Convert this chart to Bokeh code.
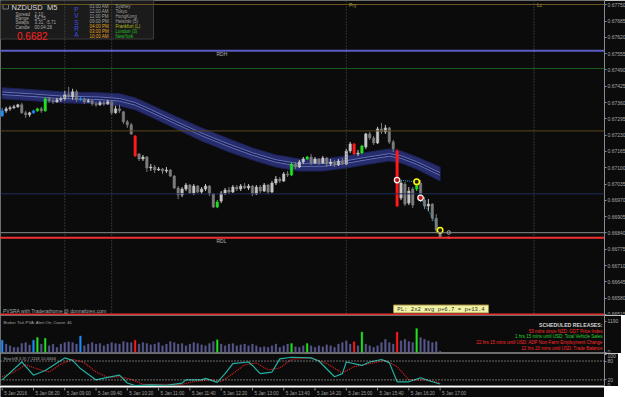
from bokeh.plotting import figure
from bokeh.models import Range1d, FixedTicker, Span, Label, ColumnDataSource, NumeralTickFormatter
from bokeh.layouts import column
from bokeh.embed import file_html
from bokeh.resources import INLINE
from bokeh.core.properties import value

# ---------------- data (NZDUSD M5, 5 Jan 2016, bars from 07:40) ----------------
open_ = [0.67307,0.67327,0.67335,0.67339,0.67343,0.67351,0.67319,0.67311,0.67319,0.67327,
         0.67335,0.67327,0.67375,0.67367,0.67363,0.67371,0.67375,0.67391,0.67383,0.67403,
         0.67371,0.67375,0.67363,0.67367,0.67355,0.67351,0.67359,0.67355,0.67363,0.67319,
         0.67335,0.67323,0.67283,0.67271,0.67227,0.67155,0.67135,0.67143,0.67099,0.67103,
         0.67091,0.67095,0.67087,0.67091,0.67067,0.67019,0.66991,0.67015,0.67031,0.66999,
         0.67027,0.67003,0.67015,0.67027,0.66995,0.66943,0.66967,0.66999,0.67011,0.67003,
         0.67023,0.67015,0.67027,0.67019,0.67027,0.66995,0.67023,0.67007,0.67031,0.67003,
         0.67039,0.67055,0.67047,0.67075,0.67071,0.67115,0.67103,0.67123,0.67135,0.67143,
         0.67119,0.67135,0.67119,0.67139,0.67115,0.67123,0.67111,0.67127,0.67115,0.67167,
         0.67195,0.67155,0.67159,0.67183,0.67235,0.67219,0.67199,0.67255,0.67243,0.67259,
         0.67203,0.67167,0.66979,0.67035,0.66959,0.67015,0.67015,0.67039,0.66971,0.66947,
         0.66955,0.66899,0.66851]
close = [0.67327,0.67335,0.67339,0.67343,0.67351,0.67319,0.67311,0.67319,0.67327,0.67335,
         0.67327,0.67375,0.67367,0.67363,0.67371,0.67375,0.67391,0.67383,0.67403,0.67371,
         0.67375,0.67363,0.67367,0.67355,0.67351,0.67359,0.67355,0.67363,0.67319,0.67335,
         0.67327,0.67283,0.67271,0.67235,0.67147,0.67135,0.67143,0.67099,0.67103,0.67091,
         0.67095,0.67087,0.67091,0.67067,0.67019,0.66991,0.67015,0.67031,0.66999,0.67027,
         0.67003,0.67015,0.67027,0.66995,0.66943,0.66963,0.66999,0.67011,0.67003,0.67023,
         0.67015,0.67027,0.67019,0.67027,0.66995,0.67023,0.67007,0.67031,0.67003,0.67039,
         0.67055,0.67047,0.67075,0.67071,0.67115,0.67103,0.67123,0.67135,0.67143,0.67119,
         0.67135,0.67119,0.67139,0.67115,0.67123,0.67111,0.67127,0.67115,0.67167,0.67195,
         0.67155,0.67159,0.67187,0.67235,0.67219,0.67199,0.67255,0.67243,0.67259,0.67203,
         0.67175,0.66947,0.67039,0.66955,0.67007,0.66951,0.67039,0.66971,0.66947,0.66955,
         0.66899,0.66851,0.66823]
high = [0.67339,0.67343,0.67347,0.67351,0.67355,0.67359,0.67327,0.67323,0.67331,0.67339,
        0.67343,0.67379,0.67383,0.67375,0.67379,0.67383,0.67407,0.67423,0.67415,0.67411,
        0.67383,0.67379,0.67375,0.67371,0.67363,0.67367,0.67367,0.67371,0.67367,0.67347,
        0.67351,0.67327,0.67291,0.67279,0.67231,0.67159,0.67151,0.67147,0.67115,0.67111,
        0.67103,0.67099,0.67103,0.67095,0.67071,0.67027,0.67023,0.67039,0.67035,0.67035,
        0.67031,0.67023,0.67035,0.67031,0.66999,0.66971,0.67007,0.67019,0.67023,0.67031,
        0.67031,0.67035,0.67039,0.67035,0.67031,0.67031,0.67031,0.67039,0.67035,0.67047,
        0.67067,0.67063,0.67083,0.67087,0.67119,0.67123,0.67131,0.67143,0.67147,0.67155,
        0.67143,0.67139,0.67147,0.67143,0.67135,0.67131,0.67135,0.67139,0.67175,0.67203,
        0.67199,0.67171,0.67191,0.67239,0.67243,0.67227,0.67263,0.67279,0.67271,0.67263,
        0.67211,0.67175,0.67047,0.67043,0.67023,0.67023,0.67047,0.67051,0.66983,0.66975,
        0.66959,0.66915,0.66859]
low = [0.67303,0.67319,0.67327,0.67335,0.67339,0.67315,0.67299,0.67303,0.67315,0.67323,
       0.67319,0.67323,0.67359,0.67355,0.67359,0.67363,0.67367,0.67375,0.67371,0.67363,
       0.67367,0.67355,0.67359,0.67347,0.67343,0.67347,0.67347,0.67351,0.67311,0.67315,
       0.67319,0.67275,0.67259,0.67231,0.67143,0.67127,0.67127,0.67083,0.67087,0.67079,
       0.67087,0.67075,0.67079,0.67063,0.67015,0.66975,0.66983,0.67007,0.66995,0.66991,
       0.66999,0.66995,0.67007,0.66987,0.66939,0.66939,0.66959,0.66991,0.66995,0.66999,
       0.67007,0.67007,0.67015,0.67011,0.66987,0.66991,0.66999,0.67003,0.66995,0.66999,
       0.67031,0.67039,0.67043,0.67063,0.67067,0.67095,0.67099,0.67115,0.67131,0.67111,
       0.67115,0.67111,0.67115,0.67103,0.67107,0.67103,0.67107,0.67111,0.67111,0.67159,
       0.67151,0.67147,0.67155,0.67175,0.67211,0.67191,0.67195,0.67235,0.67235,0.67195,
       0.67163,0.66943,0.66971,0.66947,0.66951,0.66939,0.67007,0.66963,0.66935,0.66927,
       0.66887,0.66839,0.66823]
volume = [463,313,250,188,188,338,375,275,463,563,
          313,538,250,313,188,313,375,400,375,313,
          625,250,313,375,313,338,250,313,375,338,
          313,413,375,375,463,313,375,338,288,313,
          375,250,313,413,375,313,338,250,313,375,
          338,288,250,338,413,475,313,250,313,338,
          250,288,313,250,313,250,188,213,188,250,
          313,188,250,313,338,213,188,250,338,250,
          188,250,213,288,250,188,313,375,438,313,
          400,250,775,313,250,188,250,375,500,375,
          313,775,438,500,413,375,913,563,500,438,
          375,400,38]
# PVSRA climax / above-average bars (bar index -> class)
pvsra_bars = {0: "blue", 8: "blue", 9: "green", 11: "green", 20: "blue", 34: "red",
              55: "green", 74: "green", 78: "green", 90: "red", 92: "green",
              101: "red", 106: "green"}

# moving-average band (bar index, upper, lower)
band_idx = [0, 8, 15, 25, 30, 34, 38, 44, 51, 58, 64, 70, 76, 82, 88, 94, 99, 102, 106, 112]
band_upper = [0.67419,0.67411,0.67403,0.67399,0.67395,0.67379,0.67351,0.67307,0.67259,0.67215,
              0.67179,0.67151,0.67135,0.67135,0.67147,0.67163,0.67175,0.67167,0.67143,0.67103]
band_lower = [0.67375,0.67367,0.67359,0.67355,0.67347,0.67331,0.67303,0.67259,0.67207,0.67163,
              0.67131,0.67103,0.67087,0.67087,0.67099,0.67115,0.67127,0.67119,0.67095,0.67047]

# stochastic (8,3,3)
stoch_idx = [0,5,8,11,16,18,20,24,27,30,32,34,38,42,46,47,51,52,55,57,59,63,64,66,69,71,74,
             79,81,85,87,88,92,94,97,99,101,104,107,110,112]
stoch_main = [20,77,35,50,90,82,56,20,28,35,10,2,4,3,10,20,20,25,12,40,72,77,66,40,45,87,92,
              90,80,30,40,77,66,77,85,75,14,14,27,14,7]
sig_idx = [0,3,6,9,12,15,18,21,24,27,30,33,36,46,49,53,56,59,62,65,68,71,74,79,83,87,90,94,
           98,101,104,108,112]
stoch_signal = [30,45,68,55,45,70,86,75,45,28,30,22,6,6,15,20,15,40,68,74,52,58,86,90,72,42,
                62,72,82,62,20,20,11]

# trade markers
entry_idx = [101, 107]
entry_price = [0.67051, 0.66980]
exit_idx = [106, 112]
exit_price = [0.67044, 0.66851]

# levels
level_top = 0.67751
level_rdh = 0.67567
level_green = 0.67496
level_brown = 0.67247
level_blue = 0.66996
level_gray = 0.66841
level_rdl = 0.66821
level_bottom = 0.66515
session_bars = [16, 28, 88, 136]

price_ticks = [0.66515, 0.66580, 0.66645, 0.66710, 0.66775, 0.66840, 0.66905, 0.66970,
               0.67035, 0.67100, 0.67165, 0.67230, 0.67295, 0.67360, 0.67425, 0.67490,
               0.67555, 0.67620, 0.67685, 0.67750]
time_tick_bars = [0, 8, 16, 24, 32, 40, 48, 56, 64, 72, 80, 88, 96, 104, 112]
time_labels = ["5 Jan 2016", "5 Jan 08:20", "5 Jan 09:00", "5 Jan 09:40", "5 Jan 10:20",
               "5 Jan 11:00", "5 Jan 11:40", "5 Jan 12:20", "5 Jan 13:00", "5 Jan 13:40",
               "5 Jan 14:20", "5 Jan 15:00", "5 Jan 15:40", "5 Jan 16:20", "5 Jan 17:00"]

# ---------------- layout helpers (pixel -> data) ----------------
X0, DX = 1.7, 3.91
def bx(px): return (px - X0) / DX
P0, DP = 0.67767, 0.00003988
def py(px): return P0 - DP * px
def vy(px): return (351.7 - px) * 1190 / 31.0
def sy(px): return 104 - (px - 353) * 105 / 33.0

BG = "#0b0b0b"
FONT = "Liberation Sans"
FW = 604
xr = Range1d(bx(0), bx(FW))

def make_fig(h, yrange, axis=True, outline="#6e6e6e"):
    p = figure(frame_width=FW, frame_height=h, x_range=xr, y_range=yrange,
               output_backend="svg", toolbar_location=None, min_border=0,
               x_axis_location=None, y_axis_location="right" if axis else None,
               background_fill_color=BG, border_fill_color=BG,
               outline_line_color=outline)
    p.grid.visible = False
    if axis:
        ax = p.yaxis[0]
        ax.axis_line_color = "#8a8a8a"
        ax.major_tick_line_color = "#8a8a8a"
        ax.major_tick_out = 2
        ax.major_tick_in = 0
        ax.minor_tick_line_color = None
        ax.major_label_text_color = "#a8a8a8"
        ax.major_label_text_font_size = "5px"
        ax.major_label_text_font = FONT
        ax.major_label_standoff = 1
    return p

def lab(p, xpx, ypx, text, size, color, conv, align="left", style="normal", font=FONT):
    p.add_layout(Label(x=bx(xpx), y=conv(ypx), text=text, text_font_size=f"{size}px",
                       text_color=color, text_font=font, text_align=align,
                       text_baseline="middle", text_font_style=style))

# ---------------- main price panel ----------------
p1 = make_fig(315, Range1d(py(315), py(0)))
p1.yaxis.ticker = FixedTicker(ticks=price_ticks)
p1.yaxis.formatter = NumeralTickFormatter(format="0.00000")

for b in session_bars:
    p1.add_layout(Span(location=b, dimension="height", line_color="#5a5a5a",
                       line_dash="1 2", line_width=1))
for loc, col, w in [(level_top, "#6b5520", 1), (level_rdh, "#5c5cc4", 2),
                    (level_green, "#1d5a1d", 1), (level_brown, "#5a4520", 1),
                    (level_blue, "#1e2e5c", 1), (level_gray, "#8c8c8c", 1),
                    (level_rdl, "#f03030", 2), (level_bottom, "#e83030", 2)]:
    p1.add_layout(Span(location=loc, dimension="width", line_color=col, line_width=w))

# band
p1.patch(band_idx + band_idx[::-1], band_upper + band_lower[::-1],
         fill_color="#272d6c", line_color="#1d2258", line_width=1)
band_mid = [(u + l) / 2 for u, l in zip(band_upper, band_lower)]
p1.line(band_idx, [m + 0.00005 for m in band_mid], line_color="#7382cc", line_width=0.8)
p1.line(band_idx, [m - 0.00005 for m in band_mid], line_color="#7382cc", line_width=0.8)
p1.line(band_idx, band_mid, line_color="#151a45", line_width=0.8)

climax_col = {"blue": "#1e90ff", "green": "#22e022", "red": "#ff1a1a"}
idx = list(range(len(close)))
ccol = []
for i in idx:
    if i in pvsra_bars:
        ccol.append(climax_col[pvsra_bars[i]])
    elif close[i] >= open_[i]:
        ccol.append("#c6c6c6")
    else:
        ccol.append("#7c7c7c")
src = ColumnDataSource(dict(x=idx, o=open_, c=close, h=high, l=low, col=ccol,
                            top=[max(a, b) for a, b in zip(open_, close)],
                            bot=[min(a, b) for a, b in zip(open_, close)]))
p1.segment(x0="x", y0="l", x1="x", y1="h", line_color="col", line_width=1, source=src)
p1.vbar(x="x", top="top", bottom="bot", width=0.62, fill_color="col", line_color="col",
        line_width=0.5, source=src)

# trades
for k in range(2):
    p1.line([entry_idx[k], exit_idx[k]], [entry_price[k], exit_price[k]],
            line_color="#2ea8c8", line_dash="1 1", line_width=1)
p1.scatter(entry_idx, entry_price, size=5.5, marker="circle", fill_color="#c01818",
           line_color="#f4f4f4", line_width=1.3)
p1.scatter(exit_idx, exit_price, size=5.5, marker="circle", fill_color="#1a1a1a",
           line_color="#ffff00", line_width=1.5)
p1.scatter([bx(448.3)], [py(232)], size=3.5, marker="circle", fill_color=None,
           line_color="#b0b0b0", line_width=1)
p1.scatter([bx(448.3)], [level_rdl], size=2.5, marker="square", fill_color="#ff2020",
           line_color=None)

# info box
p1.quad(left=[bx(0)], right=[bx(153)], top=[py(0)], bottom=[py(38.5)],
        fill_color="#1b1b1b", line_color="#3a3a3a", line_width=1)
p1.quad(left=[bx(2.5)], right=[bx(8)], top=[py(4)], bottom=[py(8.5)],
        fill_color=None, line_color="#8a8a8a", line_width=0.8)
lab(p1, 11, 6.5, "NZDUSD", 7.5, "#dcdcdc", py)
lab(p1, 46.5, 6.5, "M5", 7.5, "#dcdcdc", py)
for j, (k, v) in enumerate([("Spread", "2.10"), ("Range", "54.75"),
                            ("Swaps", "3.31, -5.71"), ("Candle", "00:04:28")]):
    lab(p1, 15, 13.5 + 4.4 * j, k, 4.5, "#a8a8a8", py)
    lab(p1, 34, 13.5 + 4.4 * j, v, 4.5, "#a8a8a8", py)
lab(p1, 16.5, 35.3, "0.6682", 10, "#ff2020", py)
for j, ch in enumerate("PVSRA"):
    lab(p1, 76, 9 + 6.25 * j, ch, 6.5, "#3c4ee0", py, align="center")
sess_times = ["01:00 AM", "12:00 AM", "11:00 PM", "09:00 PM", "04:00 PM", "03:00 PM", "10:00 AM"]
sess_names = ["Sydney", "Tokyo", "HongKong", "Helsinki (5)", "Frankfurt (L)", "London (3)", "NewYork"]
tcols = ["#a0a0a0"] * 4 + ["#e6a020"] * 3
ncols = ["#a0a0a0"] * 4 + ["#b8c020", "#22c022", "#22c022"]
for j in range(7):
    lab(p1, 89, 5.7 + 5.12 * j, sess_times[j], 4.5, tcols[j], py)
    lab(p1, 115, 5.7 + 5.12 * j, sess_names[j], 4.5, ncols[j], py)

lab(p1, 216, 53.5, "RDH", 5, "#b4b4b4", py)
lab(p1, 216, 240.5, "RDL", 5, "#b4b4b4", py)
lab(p1, 348.5, 4.8, "Pry", 5, "#a89a30", py)
lab(p1, 536.5, 4.8, "Lc", 5, "#a89a30", py)
lab(p1, 2.5, 310.5, "PVSRA with Traderathome @ donnaforex.com", 5, "#a8a8a8", py)

p1.quad(left=[bx(393)], right=[bx(488)], top=[py(304.5)], bottom=[py(312.5)],
        fill_color="#f2f2a4", line_color="#a08a40", line_width=1)
lab(p1, 440.5, 308.5, "PL: 2x2 avg p+6.7 = p+13.4", 5.6, "#303030", py, align="center",
    font="Liberation Mono")

p1.add_layout(Label(x=bx(605), y=level_rdl, text="0.66824", text_font_size="5px",
                    text_color="#000000", text_font=FONT, text_baseline="middle",
                    background_fill_color="#a0a0a0"))

# ---------------- volume panel ----------------
p2 = make_fig(38, Range1d(vy(353), vy(315)))
p2.yaxis.ticker = FixedTicker(ticks=[0, 1190])
vcol = ["#58588e" if i not in pvsra_bars else climax_col[pvsra_bars[i]] for i in idx]
p2.vbar(x=idx, top=volume, bottom=0, width=0.45, fill_color=vcol, line_color=vcol,
        line_width=0.3)
lab(p2, 3, 322, "Broker Tick PVA:  Alert On;  Count: 46", 4.2, "#a8a8a8", vy)
lab(p2, 602, 324.5, "SCHEDULED RELEASES:", 5.2, "#d6d6d6", vy, align="right", style="bold")
rel_text = ["53 mins since NZD: GDT Price Index",
            "1 hrs 15 mins until USD: Total Vehicle Sales",
            "22 hrs 15 mins until USD: ADP Non-Farm Employment Change",
            "22 hrs 20 mins until USD: Trade Balance"]
rel_col = ["#ff2a2a", "#2ed02e", "#ff2a2a", "#ff2a2a"]
for j in range(4):
    lab(p2, 602, 330.7 + 5.6 * j, rel_text[j], 4.5, rel_col[j], vy, align="right")

# ---------------- stochastic panel ----------------
p3 = make_fig(33, Range1d(sy(386), sy(353)))
p3.yaxis.ticker = FixedTicker(ticks=[0, 20, 80, 100])
for lv in [20, 80]:
    p3.add_layout(Span(location=lv, dimension="width", line_color="#cfcfcf",
                       line_dash="1 2", line_width=1))
p3.line(sig_idx, stoch_signal, line_color="#e02020", line_dash="1 1", line_width=1.2)
p3.line(stoch_idx, stoch_main, line_color="#22b0a2", line_width=1.2)
lab(p3, 3, 357.5, "Stoch(8,3,3) 7.1118 10.6666", 4.2, "#a8a8a8", sy)

# ---------------- time axis strip ----------------
p4 = make_fig(11, Range1d(397, 386), axis=False, outline=None)
p4.segment(x0=time_tick_bars, y0=[386] * 15, x1=time_tick_bars, y1=[389] * 15,
           line_color="#8a8a8a", line_width=1)
p4.text(x=time_tick_bars, y=[391.5] * 15, text=time_labels, x_offset=2,
        text_font=value(FONT), text_font_size="4.6px", text_color="#a0a0a0",
        text_align="left", text_baseline="middle")

layout = column(p1, p2, p3, p4, spacing=0)
open("out.html", "w").write(file_html(layout, INLINE))
